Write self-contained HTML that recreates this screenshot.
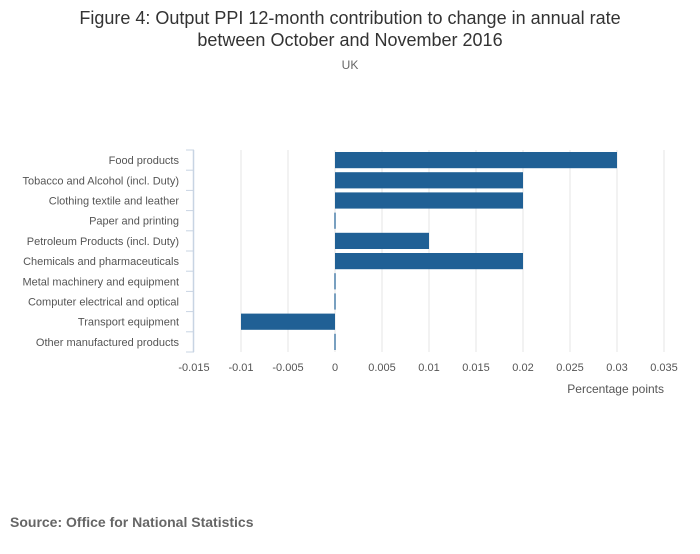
<!DOCTYPE html>
<html><head><meta charset="utf-8"><style>
body{margin:0;background:#fff;font-family:"Liberation Sans","DejaVu Sans",sans-serif;}
svg text{font-family:"Liberation Sans","DejaVu Sans",sans-serif;}
</style></head><body>
<svg id="chart" width="700" height="549">
<text x="350" y="24" text-anchor="middle" font-size="18" fill="#333">Figure 4: Output PPI 12-month contribution to change in annual rate</text>
<text x="350" y="46" text-anchor="middle" font-size="18" fill="#333">between October and November 2016</text>
<text x="350" y="69" text-anchor="middle" font-size="12" fill="#666">UK</text>
<g id="grid"></g><g id="bars"></g><g id="axes"></g>
<text x="664" y="393" text-anchor="end" font-size="12" fill="#555">Percentage points</text>
<text x="10" y="527" font-size="14" font-weight="bold" fill="#666">Source: Office for National Statistics</text>
</svg>
<script>
const categories=["Food products","Tobacco and Alcohol (incl. Duty)","Clothing textile and leather","Paper and printing","Petroleum Products (incl. Duty)","Chemicals and pharmaceuticals","Metal machinery and equipment","Computer electrical and optical","Transport equipment","Other manufactured products"];
const values=[0.03,0.02,0.02,0,0.01,0.02,0,0,-0.01,0];
const ticks=[-0.015,-0.01,-0.005,0,0.005,0.01,0.015,0.02,0.025,0.03,0.035];
const tickLabels=["-0.015","-0.01","-0.005","0","0.005","0.01","0.015","0.02","0.025","0.03","0.035"];
const NS="http://www.w3.org/2000/svg";
const plotX0=194,plotX1=664,dmin=-0.015,dmax=0.035,plotTop=150,plotBottom=352;
const xs=v=>plotX0+(v-dmin)/(dmax-dmin)*(plotX1-plotX0);
const rowH=(plotBottom-plotTop)/categories.length;
const ys=i=>plotTop+i*rowH;
function mk(tag,attrs,parent){const e=document.createElementNS(NS,tag);for(const k in attrs)e.setAttribute(k,attrs[k]);document.getElementById(parent).appendChild(e);return e;}
ticks.forEach((t,i)=>{
 if(t!==dmin){const g=mk('line',{x1:xs(t),x2:xs(t),y1:plotTop,y2:plotBottom,stroke:'#e6e6e6','stroke-width':1},'grid');
 
 }
 const tx=mk('text',{x:xs(t),y:371,'text-anchor':'middle','font-size':11,fill:'#555'},'axes');
 tx.textContent=tickLabels[i];
 
 
});
const ax=mk('line',{x1:plotX0-0.5,x2:plotX0-0.5,y1:plotTop,y2:plotBottom,stroke:'#c8d4e3','stroke-width':1.5},'axes');


for(let i=0;i<=categories.length;i++){const tk=mk('line',{x1:plotX0-8,x2:plotX0,y1:ys(i),y2:ys(i),stroke:'#c8d4e3','stroke-width':1},'axes');
 
 }
categories.forEach((c,i)=>{
 const tx=mk('text',{x:179,y:ys(i)+rowH/2+4,'text-anchor':'end','font-size':11,fill:'#555'},'axes');
 tx.textContent=c;
 
 
 const v=values[i];let a=xs(Math.min(0,v)),b=xs(Math.max(0,v));
 if(b-a<1.2){a=xs(0)-0.6;b=xs(0)+0.6;}
 const r=mk('rect',{x:a,y:ys(i)+2,width:b-a,height:rowH-4,fill:'#206095'},'bars');
 
 
});
</script>
</body></html>
